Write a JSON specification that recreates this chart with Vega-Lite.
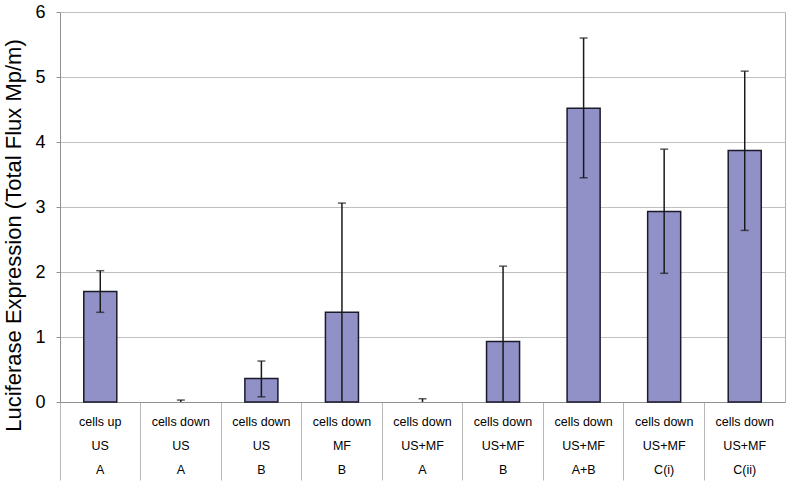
{
  "$schema": "https://vega.github.io/schema/vega-lite/v6.json",
  "width": 725,
  "height": 390,
  "autosize": {"type": "none"},
  "padding": {"left": 60, "top": 12, "right": 5, "bottom": 81},
  "background": "white",
  "config": {
    "font": "Liberation Sans",
    "view": {"stroke": "#B0B0B0", "strokeWidth": 1}
  },
  "data": {
    "values": [
      {"cat": "cells up|US|A", "value": 1.70, "lo": 1.38, "hi": 2.02},
      {"cat": "cells down|US|A", "value": 0, "lo": 0, "hi": 0.03},
      {"cat": "cells down|US|B", "value": 0.36, "lo": 0.08, "hi": 0.63},
      {"cat": "cells down|MF|B", "value": 1.38, "lo": 0, "hi": 3.06},
      {"cat": "cells down|US+MF|A", "value": 0, "lo": 0, "hi": 0.05},
      {"cat": "cells down|US+MF|B", "value": 0.93, "lo": 0, "hi": 2.09},
      {"cat": "cells down|US+MF|A+B", "value": 4.52, "lo": 3.45, "hi": 5.60},
      {"cat": "cells down|US+MF|C(i)", "value": 2.93, "lo": 1.98, "hi": 3.89},
      {"cat": "cells down|US+MF|C(ii)", "value": 3.87, "lo": 2.64, "hi": 5.09}
    ]
  },
  "encoding": {
    "x": {
      "field": "cat",
      "type": "nominal",
      "sort": null,
      "scale": {
        "domain": ["cells up|US|A", "cells down|US|A", "cells down|US|B", "cells down|MF|B", "cells down|US+MF|A", "cells down|US+MF|B", "cells down|US+MF|A+B", "cells down|US+MF|C(i)", "cells down|US+MF|C(ii)"],
        "paddingInner": 0, "paddingOuter": 0
      },
      "axis": {
        "title": null,
        "labelAngle": 0,
        "labelExpr": "split(datum.label, '|')",
        "labelFont": "Liberation Sans",
        "labelFontSize": 12.5,
        "labelColor": "#000000",
        "labelLineHeight": 24,
        "labelBaseline": "middle",
        "labelPadding": -59,
        "bandPosition": 0,
        "tickSize": 78,
        "tickColor": "#B8B8B8",
        "tickWidth": 1,
        "domainColor": "#909090",
        "grid": false
      }
    }
  },
  "layer": [
    {
      "transform": [{"filter": "datum.value > 0"}],
      "mark": {"type": "bar", "width": {"band": 0.41}, "fill": "#9191C8", "stroke": "#1a1a2a", "strokeWidth": 1.5},
      "encoding": {
        "y": {
          "field": "value",
          "type": "quantitative",
          "scale": {"domain": [0, 6], "nice": false},
          "axis": {
            "title": "Luciferase Expression (Total Flux Mp/m)",
            "titleFont": "Liberation Sans",
            "titleFontSize": 22,
            "titleFontWeight": "normal",
            "titleColor": "#000000",
            "titlePadding": 9,
            "titleY": 223,
            "values": [0, 1, 2, 3, 4, 5, 6],
            "format": "d",
            "labelFontSize": 18,
            "labelColor": "#000000",
            "labelPadding": 11,
            "tickSize": 4,
            "tickColor": "#909090",
            "domainColor": "#909090",
            "grid": true,
            "gridColor": "#C0C0C0",
            "gridWidth": 1
          }
        }
      }
    },
    {
      "mark": {"type": "rule", "color": "#1a1a1a", "strokeWidth": 1.5},
      "encoding": {
        "y": {"field": "lo", "type": "quantitative"},
        "y2": {"field": "hi"}
      }
    },
    {
      "mark": {"type": "tick", "orient": "horizontal", "size": 8, "thickness": 1.5, "color": "#1a1a1a"},
      "encoding": {"y": {"field": "hi", "type": "quantitative"}}
    },
    {
      "transform": [{"filter": "datum.lo > 0"}],
      "mark": {"type": "tick", "orient": "horizontal", "size": 8, "thickness": 1.5, "color": "#1a1a1a"},
      "encoding": {"y": {"field": "lo", "type": "quantitative"}}
    }
  ]
}
